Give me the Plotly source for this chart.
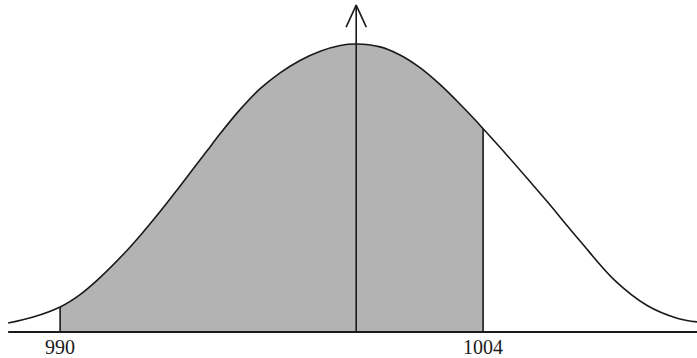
import plotly.graph_objects as go

# curve points (x in data units, y as height relative to the peak)
curve_x = [988.28, 989.11, 990.00, 990.66, 991.32, 992.22, 992.75, 993.31,
           993.87, 994.40, 994.87, 995.30, 995.96, 996.62, 997.28, 997.94,
           998.61, 999.27, 999.80, 1000.59, 1001.25, 1001.91, 1002.58,
           1003.24, 1003.74, 1004.00, 1004.79, 1005.62, 1006.12, 1007.21,
           1008.34, 1009.43, 1010.42, 1011.08]
curve_y = [0.031, 0.052, 0.087, 0.130, 0.189, 0.284, 0.347, 0.418,
           0.493, 0.566, 0.630, 0.689, 0.773, 0.845, 0.900, 0.943,
           0.975, 0.995, 1.0, 0.990, 0.962, 0.918, 0.859,
           0.791, 0.736, 0.706, 0.614, 0.514, 0.453, 0.316,
           0.181, 0.092, 0.048, 0.035]

lower = 990.00
upper = 1004.00
mean = 999.80
tick_vals = [990, 1004]
tick_text = ["990", "1004"]

x_min, x_max = 988.01, 1011.08
y_min, y_max = -0.0903, 1.1528
arrow_top = 1.135

ink = "#1a1a1a"
shade = "#b3b3b3"

fig = go.Figure()

# shaded area between the two limits
sx = [x for x in curve_x if lower <= x <= upper]
sy = [y for x, y in zip(curve_x, curve_y) if lower <= x <= upper]
fig.add_trace(go.Scatter(x=sx, y=sy, mode="lines", fill="tozeroy",
                         fillcolor=shade,
                         line=dict(width=0, shape="spline"),
                         hoverinfo="skip"))

# the density curve
fig.add_trace(go.Scatter(x=curve_x, y=curve_y, mode="lines",
                         line=dict(color=ink, width=1.6, shape="spline")))

# vertical lines at the limits
for v in [lower, upper]:
    h = curve_y[curve_x.index(v)]
    fig.add_trace(go.Scatter(x=[v, v], y=[0, h], mode="lines",
                             line=dict(color=ink, width=1.6)))

# horizontal axis
fig.add_trace(go.Scatter(x=[curve_x[0], x_max], y=[0, 0], mode="lines",
                         line=dict(color=ink, width=2.2)))

# vertical axis with open arrow head at the mean
fig.add_trace(go.Scatter(x=[mean, mean], y=[0, arrow_top], mode="lines",
                         line=dict(color=ink, width=1.6)))
dx = (x_max - x_min) * 0.0145
dy = (y_max - y_min) * 0.0615
fig.add_trace(go.Scatter(x=[mean - dx, mean, mean + dx],
                         y=[arrow_top - dy, arrow_top, arrow_top - dy],
                         mode="lines", line=dict(color=ink, width=1.6)))

for v, t in zip(tick_vals, tick_text):
    fig.add_annotation(x=v, y=-0.052, text=t, showarrow=False,
                       xanchor="center", yanchor="middle",
                       font=dict(family="Liberation Serif", size=20, color=ink))

fig.update_layout(
    width=697, height=358,
    margin=dict(l=0, r=0, t=0, b=0),
    paper_bgcolor="white", plot_bgcolor="white",
    showlegend=False,
    xaxis=dict(range=[x_min, x_max], visible=False),
    yaxis=dict(range=[y_min, y_max], visible=False),
)

fig.write_html("out.html", config={"displayModeBar": False},
               post_script="document.body.style.margin='0';")
